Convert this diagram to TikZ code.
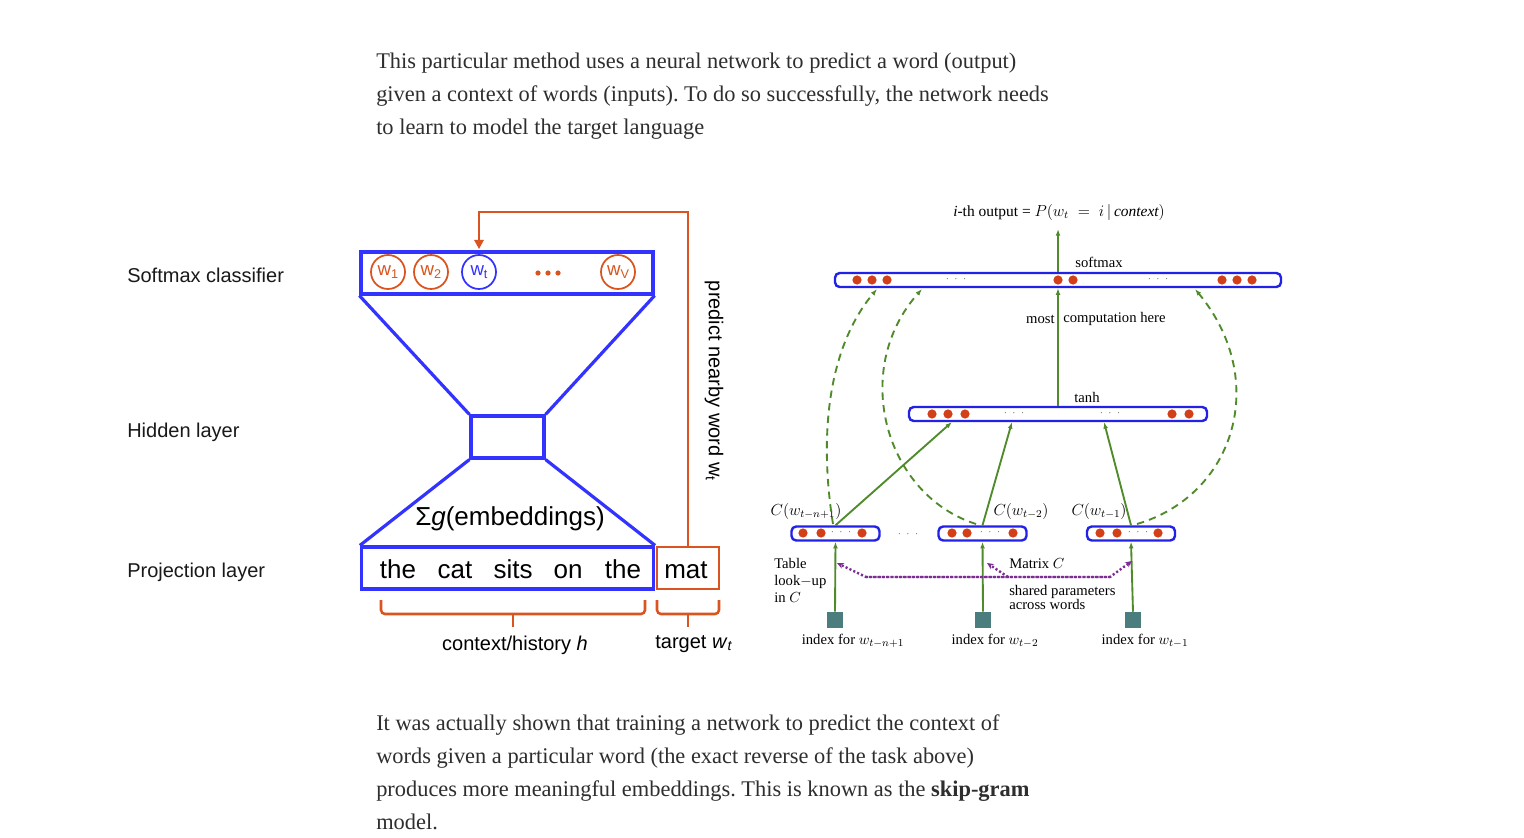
\documentclass[tikz,border=0pt]{standalone}
\usepackage{fontspec}
\setmainfont{Liberation Serif}
\newfontfamily\arial{Liberation Sans}
\usetikzlibrary{arrows.meta}
\definecolor{lblue}{HTML}{3333FF}
\definecolor{lorange}{HTML}{D9541E}
\definecolor{rblue}{HTML}{2222E6}
\definecolor{rgreen}{HTML}{4F8A2B}
\definecolor{rred}{HTML}{D2401A}
\definecolor{rteal}{HTML}{4B7D7F}
\definecolor{rpurple}{HTML}{7B2D91}
\definecolor{ptext}{HTML}{2E2E2E}
\newcommand{\wsub}[1]{w\raisebox{-0.32ex}{\fontsize{9.5}{10}\selectfont #1}}
\frenchspacing
\begin{document}
\begin{tikzpicture}[x=0.75pt,y=-0.75pt,
  ptxt/.style={anchor=base west, inner sep=0pt, text=ptext, font=\fontsize{16.8}{18}\selectfont},
  llab/.style={anchor=west, inner sep=0pt, text=black!90, font=\arial\fontsize{15}{18}\selectfont},
  lbox/.style={draw=lblue, line width=2.4pt, inner sep=0pt, minimum height=42*0.75pt},
  obox/.style={draw=lorange, line width=2.2pt, inner sep=0pt, minimum height=42*0.75pt},
  wcirc/.style={circle, draw=lorange, line width=1.3pt, inner sep=0pt, minimum size=34*0.75pt, text=lorange, font=\arial\fontsize{14}{14}\selectfont},
  bword/.style={inner sep=0pt, anchor=base, font=\arial\fontsize{19.5}{20}\selectfont},
  olin/.style={draw=lorange, line width=1.9pt},
  rbar/.style={draw=rblue, line width=1.8pt, rounded corners=3.5pt, inner sep=0pt, minimum height=14*0.75pt},
  rtxt/.style={inner sep=0pt, font=\fontsize{11}{12}\selectfont},
  garrow/.style={draw=rgreen, line width=1.4pt, -{Latex[length=5pt,width=3.6pt]}},
  gdash/.style={draw=rgreen, line width=1.4pt, dash pattern=on 5.5pt off 4pt, -{Latex[length=5pt,width=3.6pt]}},
  pdot/.style={draw=rpurple, line width=1.8pt, dash pattern=on 1.6pt off 1.6pt},
  ptip/.style={-{Stealth[length=5pt,width=4.5pt]}},
  rdots/.style={inner sep=0pt, text=black!70, font=\fontsize{7}{8}\selectfont},
  sq/.style={fill=rteal, inner sep=0pt, minimum size=16*0.75pt}
]
\useasboundingbox (0,0) rectangle (1524,838);
\fill[white] (0,0) rectangle (1524,838);

% ---------- paragraphs ----------
\node[ptxt] (p1) at (376,69) {This particular method uses a neural network to predict a word (output)};
\node[ptxt] (p2) at (376,102) {given a context of words (inputs). To do so successfully, the network needs};
\node[ptxt] (p3) at (376,135) {to learn to model the target language};
\node[ptxt] (q1) at (376,730) {It was actually shown that training a network to predict the context of};
\node[ptxt] (q2) at (376,763) {words given a particular word (the exact reverse of the task above)};
\node[ptxt] (q3) at (376,796) {produces more meaningful embeddings. This is known as the \textbf{skip-gram}};
\node[ptxt] (q4) at (376,829) {model.};

% ---------- left diagram ----------
\node[llab] (lsm) at (127,275) {Softmax classifier};
\node[llab] (lhid) at (127,432) {Hidden layer};
\node[llab] (lproj) at (127,572) {Projection layer};

\node[lbox, minimum width=292*0.75pt] (smbox) at (507,273) {};
\node[wcirc] (c1) at (388,272) {\wsub{1}};
\node[wcirc] (c2) at (431,272) {\wsub{2}};
\node[wcirc, draw=lblue, text=lblue] (ct) at (479,272) {\wsub{t}};
\node[wcirc] (cv) at (618,272) {\wsub{V}};
\foreach \xx in {538,548,558} \fill[lorange] (\xx,273) circle (2.6);

\node[lbox, minimum width=73*0.75pt] (hid) at (507.5,437) {};
\node[lbox, minimum width=292*0.75pt] (proj) at (507.5,568) {};
\node[obox, minimum width=62*0.75pt] (mat) at (688,568) {};

\draw[draw=lblue, line width=2.4pt] (smbox.south west) -- (hid.north west);
\draw[draw=lblue, line width=2.4pt] (smbox.south east) -- (hid.north east);
\draw[draw=lblue, line width=2.4pt] (hid.south west) -- (proj.north west);
\draw[draw=lblue, line width=2.4pt] (hid.south east) -- (proj.north east);

\node[bword] (emb) at (510,525) {Σ\textit{g}(embeddings)};
\node[bword] (w1) at (398,578) {the};
\node[bword] (w2) at (455,578) {cat};
\node[bword] (w3) at (513,578) {sits};
\node[bword] (w4) at (568,578) {on};
\node[bword] (w5) at (623,578) {the};
\node[bword] (w6) at (686,578) {mat};

\coordinate (otop) at (688,212);
\draw[olin, -{Triangle[length=7pt,width=7pt]}] (mat.north) -- (otop) -| ([yshift=5*0.75pt]ct.north);

\node[inner sep=0pt, rotate=-90, font=\arial\fontsize{15}{16}\selectfont] (pred) at (714,381) {predict nearby word w\textsubscript{t}};

\draw[olin, rounded corners=3pt] (381,600) -- (381,614) -- (645,614) -- (645,600);
\draw[olin] (513,614) -- (513,627);
\draw[olin, rounded corners=3pt] (657,600) -- (657,614) -- (719,614) -- (719,600);
\draw[olin] (688,614) -- (688,627);

\node[inner sep=0pt, anchor=base, font=\arial\fontsize{15}{16}\selectfont] (ctx) at (515,650) {context/history \textit{h}};
\node[inner sep=0pt, anchor=base, font=\arial\fontsize{15}{16}\selectfont] (tgt) at (694,648) {target \textit{w}\textsubscript{\textit{t}}};

% ---------- right diagram ----------
\node[rtxt, font=\fontsize{11.6}{12}\selectfont] (out) at (1059,212) {\textit{i}-th output = $P(w_t\;=\;i\,|\,\mathit{context})$};
\coordinate (outp) at (1058,229);
\node[rbar, minimum width=446*0.75pt] (smx) at (1058,280) {};
\node[rbar, minimum width=298*0.75pt] (tanh) at (1058,414) {};
\node[rbar, minimum width=88*0.75pt] (b1) at (835.5,533.5) {};
\node[rbar, minimum width=88*0.75pt] (b2) at (982.5,533.5) {};
\node[rbar, minimum width=88*0.75pt] (b3) at (1131,533.5) {};

\foreach \xx in {857,872,887,1058,1073,1222,1237,1252} \fill[rred] (\xx,280) circle (4.6);
\foreach \xx in {932,948,965,1172,1189} \fill[rred] (\xx,414) circle (4.6);
\foreach \xx in {803,821,862,952,967,1013,1100,1117,1158} \fill[rred] (\xx,533) circle (4.6);

\node[rdots] (d1) at (956,279) {$\cdot\;\cdot\;\cdot$};
\node[rdots] (d2) at (1158,279) {$\cdot\;\cdot\;\cdot$};
\node[rdots] (d3) at (1014,413) {$\cdot\;\cdot\;\cdot$};
\node[rdots] (d4) at (1110,413) {$\cdot\;\cdot\;\cdot$};
\node[rdots] (d5) at (841,532) {$\cdot\;\cdot\;\cdot$};
\node[rdots] (d6) at (990,532) {$\cdot\;\cdot\;\cdot$};
\node[rdots] (d7) at (1138,532) {$\cdot\;\cdot\;\cdot$};
\node[rdots] (d8) at (908,534) {$\cdot\;\cdot\;\cdot$};

\node[rtxt] (lsoft) at (1099,262) {softmax};
\node[rtxt, anchor=east] (lmost) at (1055,319) {most};
\node[rtxt, anchor=west] (lcomp) at (1063,319) {computation here};
\node[rtxt] (ltanh) at (1087,397) {tanh};

\node[rtxt, font=\fontsize{11.5}{12}\selectfont] (cl1) at (806,511) {$C(w_{t-n+1})$};
\node[rtxt, font=\fontsize{11.5}{12}\selectfont] (cl2) at (1021,511) {$C(w_{t-2})$};
\node[rtxt, font=\fontsize{11.5}{12}\selectfont] (cl3) at (1099,511) {$C(w_{t-1})$};

\node[sq] (s1) at (835,620) {};
\node[sq] (s2) at (983,620) {};
\node[sq] (s3) at (1133,620) {};

\node[rtxt] (ix1) at (853,641) {index for $w_{t-n+1}$};
\node[rtxt] (ix2) at (995,641) {index for $w_{t-2}$};
\node[rtxt] (ix3) at (1145,641) {index for $w_{t-1}$};

\node[rtxt, anchor=north west, align=left, font=\fontsize{11}{12.7}\selectfont] (tbl) at (774,558) {Table\\ look$-$up\\ in $C$};
\node[rtxt, anchor=west] (mtx) at (1009,564) {Matrix $C$};
\node[rtxt, anchor=north west, align=left, font=\fontsize{11}{10.5}\selectfont] (shr) at (1009,585) {shared parameters\\across words};

% green arrows
\draw[garrow] (smx.north) -- (outp);
\draw[garrow, line width=2pt] (tanh.north) -- (smx.south);
\coordinate (t1) at (952,422);
\coordinate (t2) at (1012,422);
\coordinate (t3) at (1104,422);
\draw[garrow] (b1.north) -- (t1);
\draw[garrow] (b2.north) -- (t2);
\draw[garrow] (b3.north) -- (t3);
\draw[garrow] (s1.north) -- (b1.south);
\draw[garrow] (s2.north) -- (b2.south);
\draw[garrow] (s3.north) -- (b3.south);

% dashed curves
\coordinate (e1) at (877,289);
\coordinate (e2) at (922,289);
\coordinate (e3) at (1195,289);
\coordinate (a1) at (833,524);
\coordinate (a2) at (976,524);
\coordinate (a3) at (1137,524);
\draw[gdash] (a1) .. controls (818,430) and (830,345) .. (e1);
\draw[gdash] (a2) .. controls (885,495) and (850,370) .. (e2);
\draw[gdash] (a3) .. controls (1235,495) and (1270,380) .. (e3);

% purple dotted
\coordinate (pl) at (837,563);
\coordinate (pb1) at (866,577);
\coordinate (pb2) at (1110,577);
\coordinate (pr) at (1132,561);
\coordinate (pm) at (1008,577);
\coordinate (pmt) at (987,563);
\draw[pdot, ptip] (pb2) -- (pb1) -- (pl);
\draw[pdot, ptip] (pb1) -- (pb2) -- (pr);
\draw[pdot, ptip] (pm) -- (pmt);
\end{tikzpicture}
\end{document}
